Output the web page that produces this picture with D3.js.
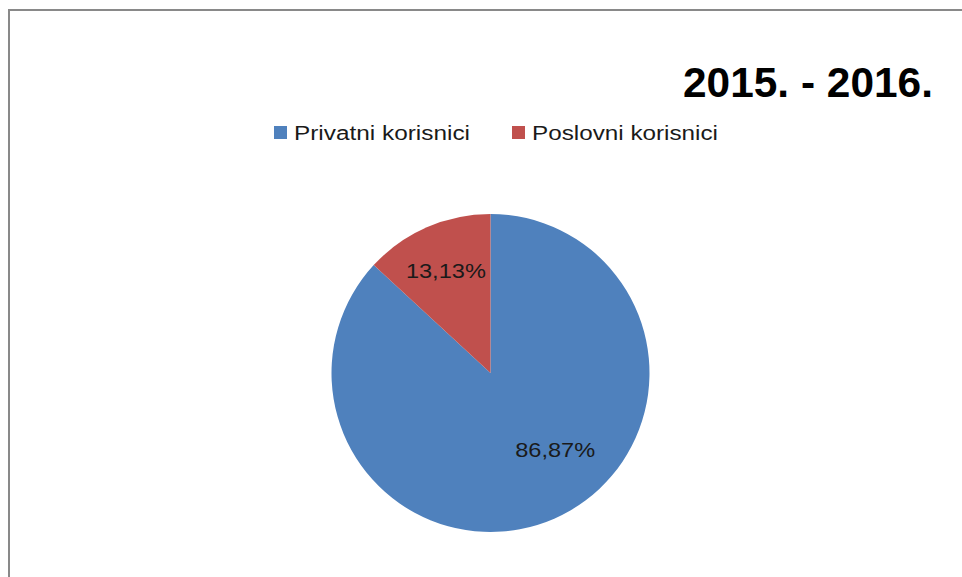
<!DOCTYPE html>
<html>
<head>
<meta charset="utf-8">
<script src="https://cdn.jsdelivr.net/npm/d3@7"></script>
<style>
  html, body { margin: 0; padding: 0; background: #fff; }
  svg { display: block; }
</style>
</head>
<body>
<div id="chart"></div>
<script>
// ========== Data ==========
const title = "2015. - 2016.";
const categories = ["Privatni korisnici", "Poslovni korisnici"];
const values = [86.87, 13.13];
const colors = ["#4F81BD", "#C0504D"];

// ========== Render ==========
const width = 962;
const height = 577;
const cx = 490.5;
const cy = 373;
const radius = 159;

const svg = d3
  .select("#chart")
  .append("svg")
  .attr("width", width)
  .attr("height", height);

// chart frame (right / bottom edges fall outside the crop)
svg
  .append("rect")
  .attr("x", 9)
  .attr("y", 10)
  .attr("width", width + 20)
  .attr("height", height + 20)
  .attr("fill", "#fff")
  .attr("stroke", "#898989")
  .attr("stroke-width", 2);

// Title
svg
  .append("text")
  .attr("x", 933)
  .attr("y", 97)
  .attr("text-anchor", "end")
  .attr("font-family", "Liberation Sans, Arial, sans-serif")
  .attr("font-weight", "bold")
  .attr("font-size", 42)
  .attr("textLength", 250)
  .attr("lengthAdjust", "spacingAndGlyphs")
  .attr("fill", "#000")
  .text(title);

// Legend
const legendX = [274, 512];
const legendW = [176, 186];
const legend = svg
  .selectAll(".legend")
  .data(categories)
  .enter()
  .append("g")
  .attr("class", "legend")
  .attr("transform", (d, i) => `translate(${legendX[i]},126)`);

legend
  .append("rect")
  .attr("width", 13)
  .attr("height", 13)
  .attr("fill", (d, i) => colors[i]);

legend
  .append("text")
  .attr("x", 20)
  .attr("y", 14)
  .attr("font-family", "Liberation Sans, Arial, sans-serif")
  .attr("font-size", 20)
  .attr("textLength", (d, i) => legendW[i])
  .attr("lengthAdjust", "spacingAndGlyphs")
  .attr("fill", "#1a1a1a")
  .text((d) => d);

// Pie
const pie = d3.pie().sort(null).value((d) => d)(values);
const arc = d3.arc().innerRadius(0).outerRadius(radius);

const g = svg.append("g").attr("transform", `translate(${cx},${cy})`);

g.selectAll("path")
  .data(pie)
  .enter()
  .append("path")
  .attr("d", arc)
  .attr("fill", (d, i) => colors[i]);

// Data labels (Excel "best fit" placement, approximated)
const labelArc = d3.arc().innerRadius(0).outerRadius(radius * 1.4);
const labelShift = [[0, 0], [0, 0]];
const fmt = (v) => v.toFixed(2).replace(".", ",") + "%";

g.selectAll(".label")
  .data(pie)
  .enter()
  .append("text")
  .attr("class", "label")
  .attr("transform", (d, i) => {
    let [x, y] = labelArc.centroid(d);
    if (i === 0) {
      // large slice: label pulled toward lower right of the centre
      const a = (d.startAngle + d.endAngle) / 2 - 0.29;
      x = Math.sin(a) * radius * 0.63;
      y = -Math.cos(a) * radius * 0.63;
    }
    return `translate(${x + labelShift[i][0]},${y + labelShift[i][1]})`;
  })
  .attr("dy", "0.35em")
  .attr("text-anchor", "middle")
  .attr("font-family", "Liberation Sans, Arial, sans-serif")
  .attr("font-size", 21)
  .attr("textLength", 80)
  .attr("lengthAdjust", "spacingAndGlyphs")
  .attr("fill", "#1a1a1a")
  .text((d) => fmt(d.value));
</script>
</body>
</html>
